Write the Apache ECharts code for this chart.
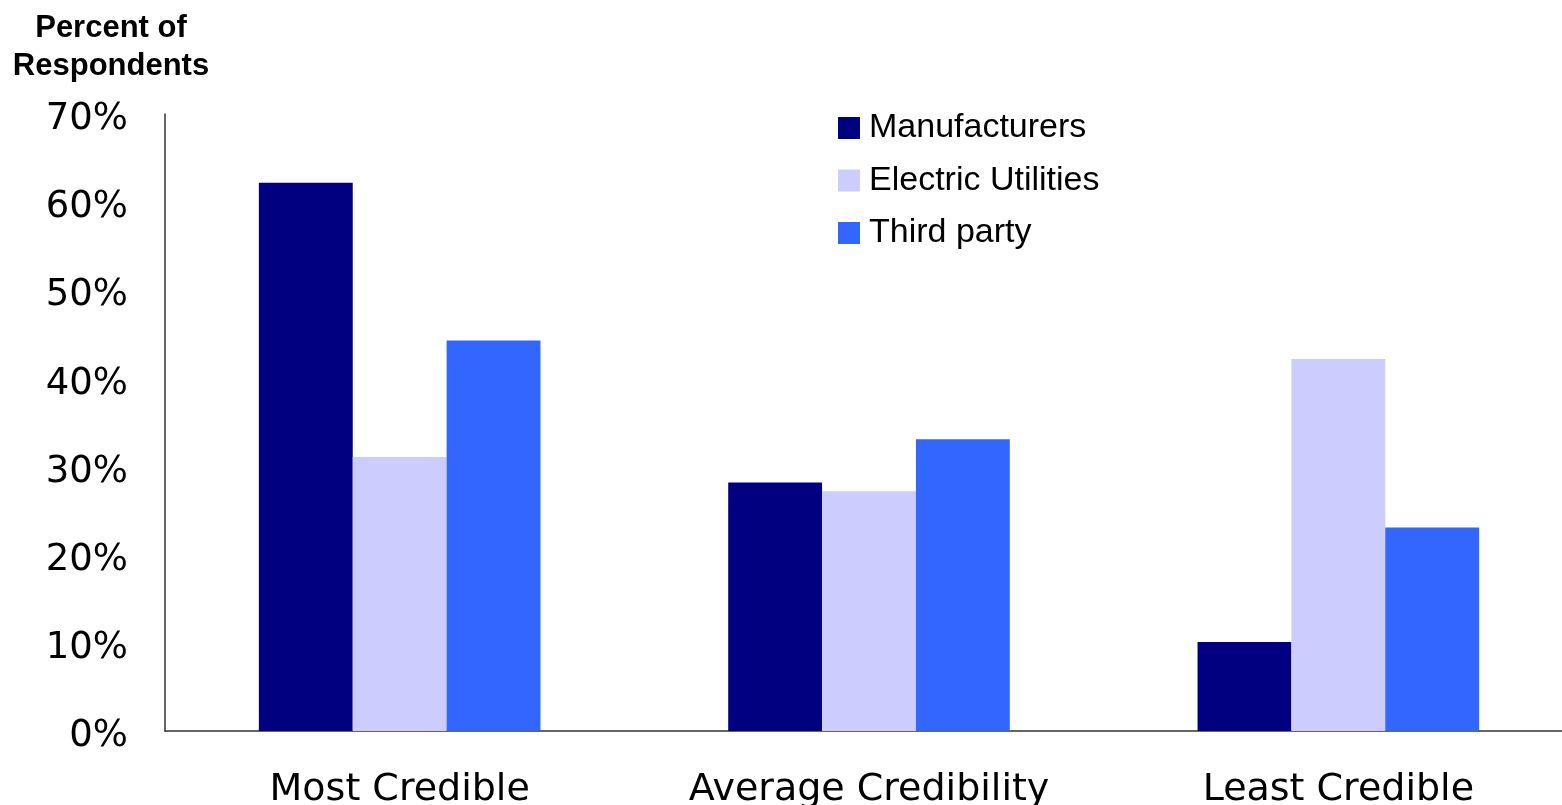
<!DOCTYPE html>
<html>
<head>
<meta charset="utf-8">
<script src="https://cdn.jsdelivr.net/npm/echarts@6/dist/echarts.min.js"></script>
<style>
  html, body { margin: 0; padding: 0; background: #ffffff; overflow: hidden; }
  #chart { width: 1562px; height: 805px; }
</style>
</head>
<body>
<div id="chart"></div>
<script>
// Credibility ratings by information source (percent of respondents)
const categories = ['Most Credible', 'Average Credibility', 'Least Credible'];
const manufacturers = [62.2, 28.2, 10.1];
const electricUtilities = [31.1, 27.2, 42.2];
const thirdParty = [44.3, 33.1, 23.1];
const yTicks = { min: 0, max: 70, interval: 10 };

const chart = echarts.init(document.getElementById('chart'));

function barSeries(name, data, color) {
  return {
    name: name,
    type: 'bar',
    data: data,
    barGap: '0%',
    barCategoryGap: '40%',
    itemStyle: { color: color },
    emphasis: { disabled: true }
  };
}

chart.setOption({
  animation: false,
  backgroundColor: '#ffffff',
  title: {
    text: 'Percent of\nRespondents',
    left: 106,
    top: 4,
    textAlign: 'center',
    textStyle: {
      fontFamily: 'Liberation Sans',
      fontWeight: 'bold',
      fontSize: 31,
      lineHeight: 38,
      color: '#000000'
    }
  },
  legend: {
    orient: 'vertical',
    left: 838,
    top: 111,
    padding: 0,
    itemWidth: 22,
    itemHeight: 22,
    itemGap: 18.5,
    icon: 'rect',
    textStyle: {
      fontFamily: 'Liberation Sans',
      fontSize: 34,
      lineHeight: 32,
      color: '#000000',
      padding: [0, 0, 0, 4]
    },
    data: ['Manufacturers', 'Electric Utilities', 'Third party']
  },
  grid: {
    left: 165,
    top: 114,
    bottom: 74,
    width: 1408,
    outerBoundsMode: 'none',
    containLabel: false
  },
  xAxis: {
    type: 'category',
    data: categories,
    axisLine: { show: true, lineStyle: { color: '#333333', width: 1.5 } },
    axisTick: { show: false },
    axisLabel: {
      margin: 40,
      fontFamily: 'DejaVu Sans',
      fontSize: 38,
      color: '#000000'
    }
  },
  yAxis: {
    type: 'value',
    min: yTicks.min,
    max: yTicks.max,
    interval: yTicks.interval,
    splitLine: { show: false },
    axisLine: { show: true, lineStyle: { color: '#333333', width: 1.5 } },
    axisTick: { show: false },
    axisLabel: {
      margin: 37,
      formatter: '{v|{value}%}',
      color: '#000000',
      rich: {
        v: {
          fontFamily: 'DejaVu Sans',
          fontSize: 37,
          color: '#000000',
          padding: [11, 0, 0, 0]
        }
      }
    }
  },
  series: [
    barSeries('Manufacturers', manufacturers, '#000080'),
    barSeries('Electric Utilities', electricUtilities, '#CCCCFF'),
    barSeries('Third party', thirdParty, '#3366FF')
  ]
});
</script>
</body>
</html>
